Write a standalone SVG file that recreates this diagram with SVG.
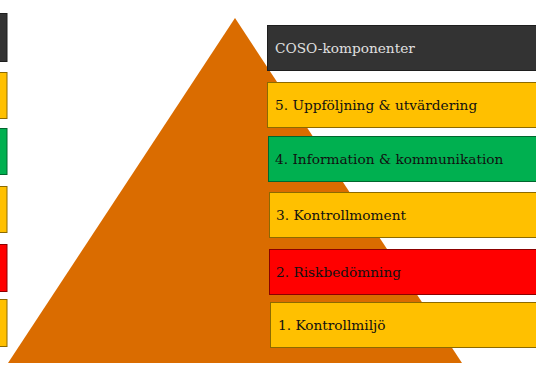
<svg xmlns="http://www.w3.org/2000/svg" width="536" height="365" viewBox="0 0 536 365">
<style>
.b{stroke-width:1}
.dk{fill:#333333;stroke:#1e1e1e}
.ye{fill:#FFC000;stroke:#8c6a00}
.gr{fill:#00B050;stroke:#00662e}
.rd{fill:#FF0000;stroke:#8c0000}
text{font-family:"DejaVu Serif","Liberation Serif",serif;font-size:13.7px;fill:#111111}
.lt{fill:#e0e0e0}
</style>
<rect width="536" height="365" fill="#ffffff"/>
<g id="left-boxes">
<rect class="b dk" x="-10" y="13.5" width="17" height="48"/>
<rect class="b ye" x="-10" y="72.5" width="17" height="46"/>
<rect class="b gr" x="-10" y="128.5" width="17" height="46"/>
<rect class="b ye" x="-10" y="186.5" width="17" height="46"/>
<rect class="b rd" x="-10" y="244.5" width="17" height="47"/>
<rect class="b ye" x="-10" y="299.5" width="17" height="47"/>
</g>
<g id="pyramid">
<polygon points="235,18 462,363 8,363" fill="#DA6C00"/>
</g>
<g id="header">
<rect class="b dk" x="267.5" y="25.5" width="280" height="45"/>
<text class="lt" x="275" y="53">COSO-komponenter</text>
</g>
<g id="c5">
<rect class="b ye" x="267.5" y="82.5" width="280" height="45"/>
<text x="275" y="110">5. Uppföljning &amp; utvärdering</text>
</g>
<g id="c4">
<rect class="b gr" x="268.5" y="136.5" width="280" height="45"/>
<text x="275" y="164">4. Information &amp; kommunikation</text>
</g>
<g id="c3">
<rect class="b ye" x="269.5" y="192.5" width="280" height="45"/>
<text x="276" y="220">3. Kontrollmoment</text>
</g>
<g id="c2">
<rect class="b rd" x="269.5" y="249.5" width="280" height="45"/>
<text x="276" y="277">2. Riskbedömning</text>
</g>
<g id="c1">
<rect class="b ye" x="270.5" y="302.5" width="280" height="45"/>
<text x="278" y="330">1. Kontrollmiljö</text>
</g>
<g id="connectors"/>
</svg>
